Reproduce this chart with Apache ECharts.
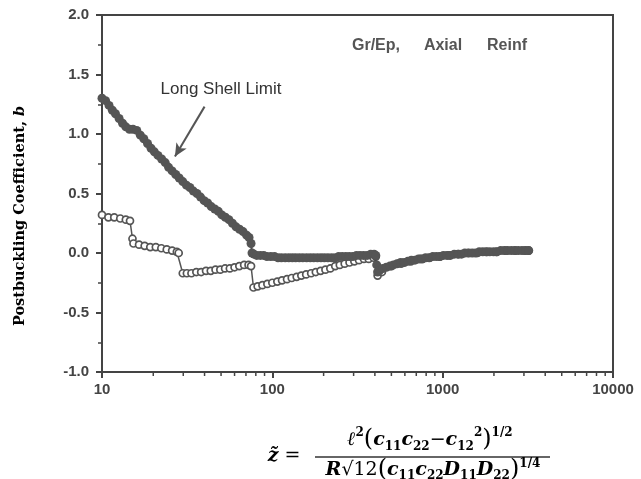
<!DOCTYPE html>
<html>
<head>
<meta charset="utf-8">
<script src="https://cdn.jsdelivr.net/npm/echarts@6/dist/echarts.min.js"></script>
<style>
  html, body { margin: 0; padding: 0; background: #fff; }
  #chart { width: 641px; height: 479px; }
</style>
</head>
<body>
<div id="chart"></div>
<script>
// long shell limit (filled circles)
const zFilled = [10, 10.5, 11, 11.5, 12, 12.6, 13.2, 13.8, 14.5, 15.2, 16, 16.8, 17.6, 18.5, 19.4, 20.3,
  21.3, 22.4, 23.5, 24.6, 25.8, 27.1, 28.4, 29.8, 31.3, 32.8, 34.4, 36.1, 37.9, 39.8, 41.7, 43.8,
  45.9, 48.2, 50.5, 53, 55.6, 58.3, 61.2, 64.2, 67.3, 70.6, 73, 75, 76, 78, 81, 85, 89, 93, 98,
  103, 108, 113, 119, 125, 131, 137, 144, 151, 159, 167, 175, 184, 193, 202, 212, 223, 234, 245,
  257, 270, 283, 297, 312, 327, 343, 360, 378, 396, 405, 410, 415, 425, 445, 467, 490, 514, 540,
  567, 595, 624, 655, 687, 721, 757, 794, 834, 875, 918, 964, 1010, 1060, 1110, 1170, 1230, 1290,
  1350, 1420, 1490, 1560, 1640, 1720, 1800, 1890, 1990, 2080, 2190, 2300, 2410, 2530, 2650, 2780,
  2920, 3070, 3200];
const bFilled = [1.30, 1.28, 1.24, 1.20, 1.17, 1.13, 1.09, 1.06, 1.04, 1.04, 1.03, 0.99, 0.96, 0.92, 0.88, 0.85,
  0.82, 0.79, 0.76, 0.72, 0.69, 0.66, 0.63, 0.60, 0.57, 0.55, 0.52, 0.50, 0.47, 0.44, 0.42, 0.39,
  0.37, 0.35, 0.32, 0.30, 0.28, 0.25, 0.22, 0.20, 0.18, 0.15, 0.13, 0.08, 0.00, -0.01, -0.02, -0.02, -0.02, -0.03, -0.03,
  -0.03, -0.04, -0.04, -0.04, -0.04, -0.04, -0.04, -0.04, -0.04, -0.04, -0.04, -0.04, -0.04, -0.04, -0.04, -0.04, -0.04, -0.04, -0.03,
  -0.03, -0.03, -0.03, -0.03, -0.02, -0.02, -0.02, -0.02, -0.01, -0.01, -0.02, -0.10, -0.16, -0.15, -0.13, -0.12, -0.11, -0.10, -0.09,
  -0.08, -0.08, -0.07, -0.06, -0.06, -0.05, -0.05, -0.04, -0.04, -0.03, -0.03, -0.03, -0.02, -0.02, -0.02, -0.01, -0.01, -0.01,
  0.00, 0.00, 0.00, 0.00, 0.01, 0.01, 0.01, 0.01, 0.01, 0.01, 0.02, 0.02, 0.02, 0.02, 0.02, 0.02,
  0.02, 0.02, 0.02];

// open circles
const zOpen = [10, 10.9, 11.8, 12.8, 13.8, 14.6, 15.1, 15.3, 16.5, 17.8, 19.2, 20.7, 22.3, 24, 25.8, 27.5,
  28.2, 29.8, 31.5, 33.5, 35.8, 38.2, 40.8, 43.5, 46.4, 49.5, 52.8, 56.3, 60, 64, 68.3, 72.5, 75,
  77.5, 82, 87.5, 93.5, 100, 107, 114, 122, 130, 139, 148, 158, 169, 180, 192, 205, 219, 234, 249,
  266, 284, 303, 323, 345, 368, 393, 405, 415, 440, 500, 570, 650, 740, 840, 960, 1090, 1240, 1410,
  1600, 1820, 2070, 2350, 2670, 3030, 3200];
const bOpen = [0.32, 0.30, 0.30, 0.29, 0.28, 0.27, 0.12, 0.08, 0.07, 0.06, 0.05, 0.05, 0.04, 0.03, 0.02, 0.01,
  0.00, -0.17, -0.17, -0.17, -0.16, -0.16, -0.15, -0.15, -0.14, -0.14, -0.13, -0.13, -0.12, -0.11, -0.10, -0.10, -0.11,
  -0.29, -0.28, -0.27, -0.26, -0.25, -0.24, -0.23, -0.22, -0.21, -0.20, -0.19, -0.18, -0.17, -0.16, -0.15, -0.14, -0.13, -0.11, -0.10,
  -0.09, -0.08, -0.07, -0.06, -0.05, -0.05, -0.04, -0.03, -0.19, -0.16, -0.11, -0.09, -0.07, -0.05, -0.04, -0.03, -0.02, -0.01, 0.00,
  0.00, 0.01, 0.01, 0.02, 0.02, 0.02, 0.02];

const xMinorTicks = [20, 30, 40, 50, 60, 70, 80, 90, 200, 300, 400, 500, 600, 700, 800, 900,
  2000, 3000, 4000, 5000, 6000, 7000, 8000, 9000];

const ink = '#444';
const sansFont = 'Liberation Sans';
const serifFont = 'DejaVu Serif';

const chart = echarts.init(document.getElementById('chart'));

// rich styles for the formula under the x axis
const mathRich = {
  i: { fontFamily: serifFont, fontStyle: 'italic', fontWeight: 'bold', fontSize: 19, color: '#333', verticalAlign: 'middle' },
  r: { fontFamily: serifFont, fontSize: 19, color: '#333', verticalAlign: 'middle' },
  p: { fontFamily: serifFont, fontSize: 24, color: '#333', verticalAlign: 'middle' },
  sub: { fontFamily: serifFont, fontSize: 12, fontWeight: 'bold', color: '#333', verticalAlign: 'bottom' },
  sup: { fontFamily: serifFont, fontSize: 12, fontWeight: 'bold', color: '#333', verticalAlign: 'top' }
};

chart.setOption({
  animation: false,
  grid: { left: 102, right: 28, top: 15, bottom: 107, show: true, borderColor: ink, borderWidth: 2, outerBoundsMode: 'none' },
  xAxis: {
    type: 'log',
    logBase: 10,
    min: 10,
    max: 10000,
    axisLine: { onZero: false, lineStyle: { color: ink, width: 2 } },
    axisTick: { length: 6, lineStyle: { color: ink, width: 2 } },
    axisLabel: { color: '#444', fontFamily: sansFont, fontWeight: 'bold', fontSize: 15, margin: 10, formatter: v => String(Math.round(v)) },
    splitLine: { show: false }
  },
  yAxis: {
    type: 'value',
    min: -1,
    max: 2,
    interval: 0.5,
    axisLine: { show: true, lineStyle: { color: ink, width: 2 } },
    axisTick: { show: true, length: 6, lineStyle: { color: ink, width: 2 } },
    minorTick: { show: true, splitNumber: 2, length: 4, lineStyle: { color: ink, width: 1.5 } },
    axisLabel: { color: '#444', fontFamily: sansFont, fontWeight: 'bold', fontSize: 15, margin: 13, formatter: v => v.toFixed(1) },
    splitLine: { show: false }
  },
  series: [
    {
      type: 'line',
      data: zOpen.map((z, i) => [z, bOpen[i]]),
      symbol: 'circle',
      symbolSize: 7,
      showAllSymbol: true,
      lineStyle: { color: '#555', width: 1.5 },
      itemStyle: { color: '#fff', borderColor: '#555', borderWidth: 1.7 },
      z: 2
    },
    {
      type: 'line',
      data: zFilled.map((z, i) => [z, bFilled[i]]),
      symbol: 'circle',
      symbolSize: 9,
      showAllSymbol: true,
      lineStyle: { color: '#444', width: 2 },
      itemStyle: { color: '#555' },
      z: 3,
      markLine: {
        silent: true,
        symbol: ['none', 'arrow'],
        symbolSize: [9, 13],
        label: { show: false },
        lineStyle: { color: '#555', width: 2, type: 'solid' },
        data: [[{ coord: [40, 1.23] }, { coord: [26.8, 0.81] }]]
      }
    }
  ]
});

// minor ticks on the log axis, placed through the axis scale
const minorTickEls = xMinorTicks.map(v => {
  const p = chart.convertToPixel({ gridIndex: 0 }, [v, -1]);
  return {
    type: 'line',
    shape: { x1: p[0], y1: p[1], x2: p[0], y2: p[1] + 4 },
    style: { stroke: ink, lineWidth: 1.5 }
  };
});

chart.setOption({
  graphic: minorTickEls.concat([
    {
      type: 'text', x: 20, y: 216, rotation: Math.PI / 2,
      style: {
        text: '{a|Postbuckling Coefficient, }{b|b}',
        align: 'center', verticalAlign: 'middle',
        rich: {
          a: { fontFamily: serifFont, fontWeight: 'bold', fontSize: 14.5, color: '#333' },
          b: { fontFamily: serifFont, fontWeight: 'bold', fontStyle: 'italic', fontSize: 14.5, color: '#333' }
        }
      }
    },
    {
      type: 'text', x: 221, y: 89,
      style: { text: 'Long Shell Limit', fontFamily: sansFont, fontSize: 17, fill: '#333', align: 'center', verticalAlign: 'middle' }
    },
    {
      type: 'text', x: 376, y: 46,
      style: { text: 'Gr/Ep,', fontFamily: sansFont, fontWeight: 'bold', fontSize: 16, fill: '#555', align: 'center', verticalAlign: 'middle' }
    },
    {
      type: 'text', x: 443, y: 46,
      style: { text: 'Axial', fontFamily: sansFont, fontWeight: 'bold', fontSize: 16, fill: '#555', align: 'center', verticalAlign: 'middle' }
    },
    {
      type: 'text', x: 507, y: 46,
      style: { text: 'Reinf', fontFamily: sansFont, fontWeight: 'bold', fontSize: 16, fill: '#555', align: 'center', verticalAlign: 'middle' }
    },
    {
      type: 'text', x: 284, y: 456,
      style: { text: '{i|z̃}{r| =}', align: 'center', verticalAlign: 'middle', rich: mathRich }
    },
    {
      type: 'text', x: 430, y: 440,
      style: {
        text: '{i|ℓ}{sup|2}{p|(}{i|c}{sub|11}{i|c}{sub|22}{r|−}{i|c}{sub|12}{sup|2}{p|)}{sup|1/2}',
        align: 'center', verticalAlign: 'middle', lineHeight: 26, rich: mathRich
      }
    },
    {
      type: 'line',
      shape: { x1: 315, y1: 457, x2: 550, y2: 457 },
      style: { stroke: '#333', lineWidth: 1.3 }
    },
    {
      type: 'text', x: 433, y: 470,
      style: {
        text: '{i|R}{r|√12}{p|(}{i|c}{sub|11}{i|c}{sub|22}{i|D}{sub|11}{i|D}{sub|22}{p|)}{sup|1/4}',
        align: 'center', verticalAlign: 'middle', lineHeight: 24, rich: mathRich
      }
    }
  ])
});
</script>
</body>
</html>
